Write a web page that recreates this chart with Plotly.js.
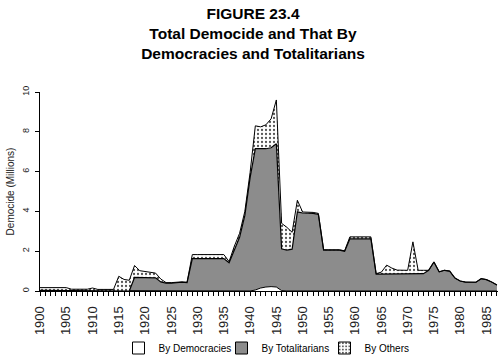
<!DOCTYPE html>
<html>
<head>
<meta charset="utf-8">
<script src="https://cdn.plot.ly/plotly-3.0.1.min.js"></script>
<style>html,body{margin:0;padding:0;background:#fff;}#chart{width:500px;height:361px;}</style>
</head>
<body>
<div id="chart"></div>
<script>
const years = [1900,1901,1902,1903,1904,1905,1906,1907,1908,1909,1910,1911,1912,1913,1914,1915,1916,1917,1918,1919,
1920,1921,1922,1923,1924,1925,1926,1927,1928,1929,1930,1931,1932,1933,1934,1935,1936,1937,1938,1939,
1940,1941,1942,1943,1944,1945,1946,1947,1948,1949,1950,1951,1952,1953,1954,1955,1956,1957,1958,1959,
1960,1961,1962,1963,1964,1965,1966,1967,1968,1969,1970,1971,1972,1973,1974,1975,1976,1977,1978,1979,
1980,1981,1982,1983,1984,1985,1986,1987];

const byDemocracies = [0.03,0.03,0.03,0.03,0.03,0.03,0.02,0.02,0.02,0.02,0.02,0.02,0.02,0.02,0.02,0,0,0,0,0,
0,0,0,0,0,0,0,0,0,0,0,0,0,0,0,0,0,0,0,0,
0,0.05,0.15,0.2,0.22,0.2,0.02,0,0,0,0,0,0,0,0.03,0.03,0.03,0.03,0.03,0.03,
0.03,0.03,0.03,0,0,0,0,0,0,0,0,0,0,0,0,0,0,0,0,0,
0,0,0,0,0,0,0,0];

const byTotalitarians = [0,0,0,0,0,0,0,0,0,0,0,0,0,0,0,0,0,0,0.68,0.68,
0.68,0.68,0.66,0.45,0.4,0.4,0.42,0.44,0.42,1.63,1.63,1.63,1.63,1.63,1.63,1.63,1.42,2.1,2.7,3.8,
5.7,7.1,7.0,6.95,6.98,7.2,2.1,2.05,2.1,3.98,3.92,3.92,3.9,3.85,2.02,2.02,2.02,2.02,1.97,2.59,
2.59,2.59,2.59,2.62,0.85,0.85,0.85,0.85,0.85,0.85,0.85,0.85,0.85,0.87,1.04,1.46,0.96,1.04,1.0,0.65,
0.5,0.45,0.44,0.44,0.62,0.57,0.45,0.3];

const byOthers = [0.14,0.14,0.14,0.14,0.14,0.14,0.07,0.07,0.07,0.07,0.13,0.06,0.06,0.06,0.06,0.74,0.58,0.54,0.6,0.34,
0.29,0.25,0.24,0.15,0.02,0.02,0.02,0.02,0.02,0.2,0.2,0.2,0.2,0.2,0.2,0.2,0.06,0.15,0.2,0.2,
0.25,1.15,1.1,1.2,1.45,2.2,1.28,1.15,0.85,0.58,0.05,0.05,0.05,0.05,0.02,0.02,0.02,0.02,0.02,0.1,
0.1,0.1,0.1,0.1,0.02,0.1,0.45,0.3,0.2,0.19,0.19,1.62,0.19,0.17,0,0,0,0,0,0,
0,0,0,0,0,0,0,0];

const seriesNames = ['By Democracies', 'By Totalitarians', 'By Others'];
const yearTicks = [1900,1905,1910,1915,1920,1925,1930,1935,1940,1945,1950,1955,1960,1965,1970,1975,1980,1985];
const yearTickText = yearTicks.map(String);
const valueTicks = [0,2,4,6,8,10];

const GRAY = '#8c8c8c';
const dotPattern = {shape: '.', fgcolor: '#555', bgcolor: '#fff', size: 4, solidity: 0.25};
const FONT = 'Liberation Sans, Arial, sans-serif';

const traces = [
  {x: years, y: byDemocracies, name: seriesNames[0], type: 'scatter', mode: 'lines', showlegend: false,
   stackgroup: 'one', line: {color: '#000', width: 1}, fillcolor: '#ffffff'},
  {x: years, y: byTotalitarians, name: seriesNames[1], type: 'scatter', mode: 'lines', showlegend: false,
   stackgroup: 'one', line: {color: '#000', width: 1.2}, fillcolor: GRAY},
  {x: years, y: byOthers, name: seriesNames[2], type: 'scatter', mode: 'lines', showlegend: false,
   stackgroup: 'one', line: {color: '#000', width: 1}, fillpattern: dotPattern},
  // legend keys (no data) so that the legend shows bordered squares like the reference
  {x: [null], y: [null], type: 'bar', name: seriesNames[0], hoverinfo: 'skip',
   marker: {color: '#fff', line: {color: '#000', width: 1}}},
  {x: [null], y: [null], type: 'bar', name: seriesNames[1], hoverinfo: 'skip',
   marker: {color: GRAY, line: {color: '#000', width: 1}}},
  {x: [null], y: [null], type: 'bar', name: seriesNames[2], hoverinfo: 'skip',
   marker: {color: '#fff', line: {color: '#000', width: 1}, pattern: dotPattern}}
];

const layout = {
  width: 500, height: 361,
  paper_bgcolor: '#fff', plot_bgcolor: '#fff',
  margin: {l: 40, r: 2, t: 92, b: 70},
  title: {
    text: 'FIGURE 23.4<br>Total Democide and That By<br>Democracies and Totalitarians',
    font: {family: FONT, size: 15.5, color: '#000', weight: 'bold'},
    x: 0.506, xref: 'container', xanchor: 'center',
    y: 0.947, yref: 'container', yanchor: 'top'
  },
  showlegend: true,
  legend: {
    orientation: 'h', x: 0.546, xref: 'container', xanchor: 'center',
    y: 1 - 348/361, yref: 'container', yanchor: 'middle',
    font: {family: FONT, size: 10, color: '#000'},
    traceorder: 'normal', itemwidth: 30, entrywidth: 58
  },
  xaxis: {
    range: [1900, 1987.2],
    automargin: false,
    tickvals: yearTicks, ticktext: yearTickText,
    tickangle: -90,
    ticks: 'outside', ticklen: 4, tickcolor: '#000', tickwidth: 1,
    ticklabelstandoff: 5,
    minor: {dtick: 1, tick0: 1900, ticks: 'outside', ticklen: 4, tickcolor: '#000', tickwidth: 1},
    showline: true, linecolor: '#000', linewidth: 1,
    showgrid: false, zeroline: false,
    tickfont: {family: FONT, size: 13, color: '#222'}
  },
  yaxis: {
    range: [0, 10],
    automargin: false,
    tickvals: valueTicks,
    tickangle: -90,
    ticks: 'outside', ticklen: 4, tickcolor: '#000',
    showline: true, linecolor: '#000', linewidth: 1,
    showgrid: false, zeroline: false,
    ticklabelstandoff: 2,
    tickfont: {family: FONT, size: 9, color: '#222'},
    title: {text: 'Democide (Millions)', standoff: 4,
            font: {family: FONT, size: 10, color: '#222'}}
  }
};

Plotly.newPlot('chart', traces, layout, {displayModeBar: false, staticPlot: true});
</script>
</body>
</html>
